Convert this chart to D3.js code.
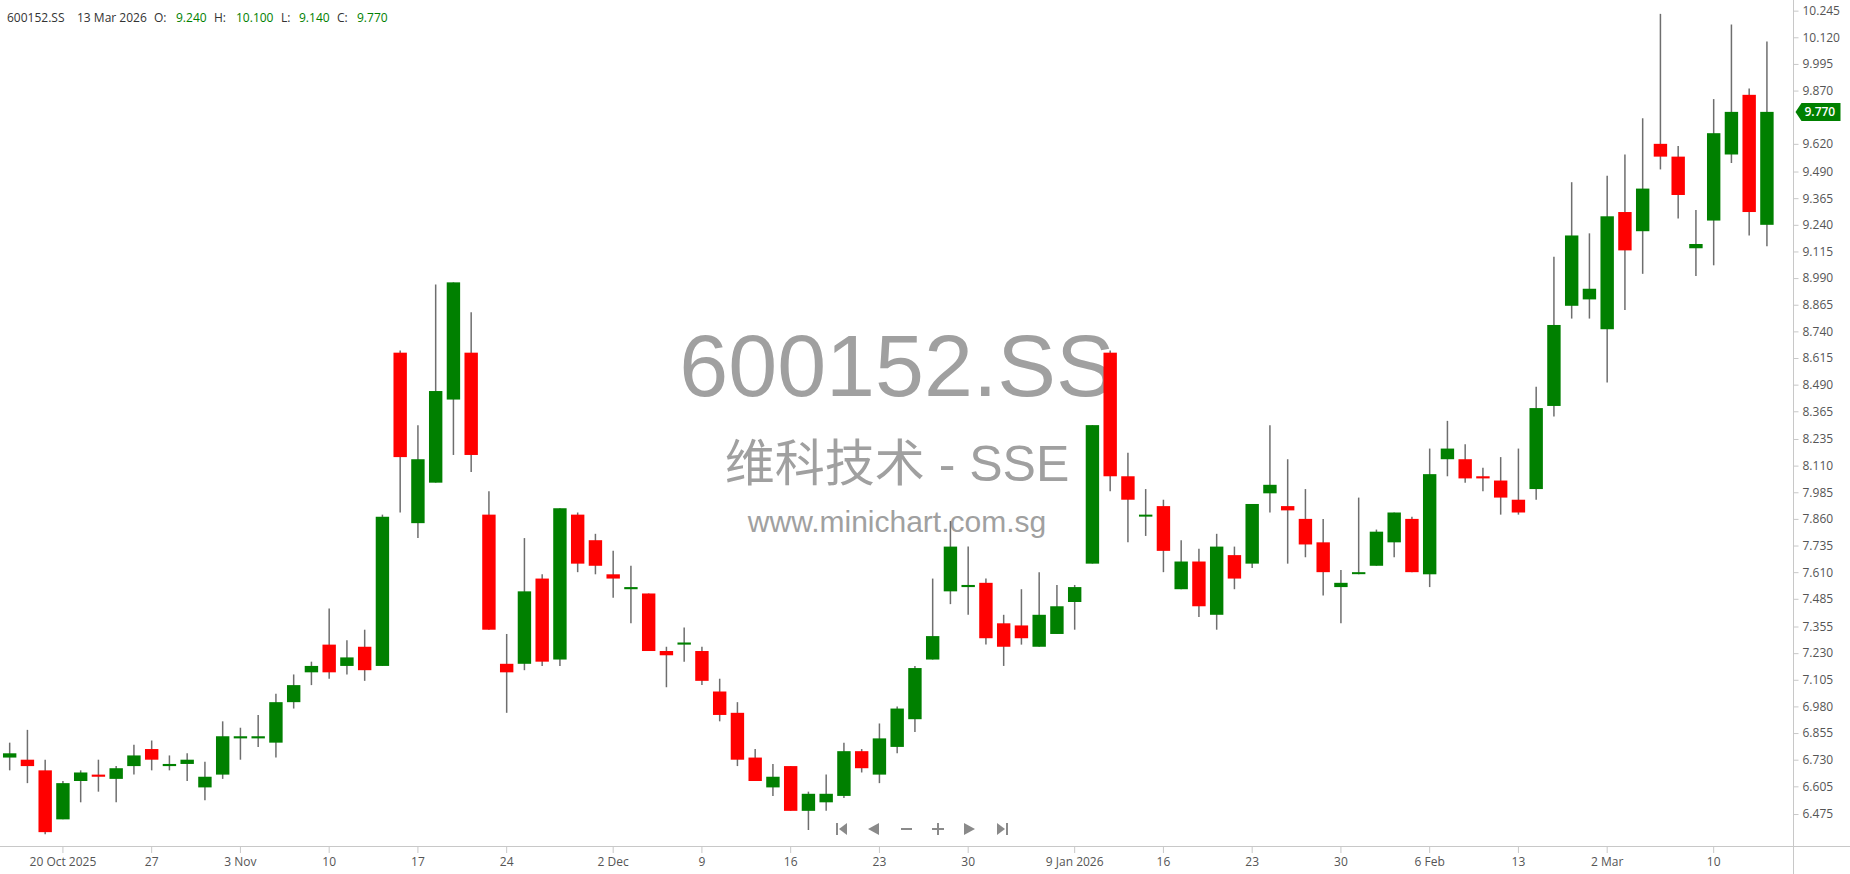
<!DOCTYPE html>
<html>
<head>
<meta charset="utf-8">
<script src="https://cdn.jsdelivr.net/npm/d3@7"></script>
<style>
  html, body { margin: 0; padding: 0; background: #fff; }
  svg { display: block; }
</style>
</head>
<body>
<svg id="chart" width="1850" height="874"></svg>
<script>
// ---------------- DATA ----------------
const dates = [
  "2025-10-15","2025-10-16","2025-10-17","2025-10-20","2025-10-21","2025-10-22","2025-10-23","2025-10-24",
  "2025-10-27","2025-10-28","2025-10-29","2025-10-30","2025-10-31",
  "2025-11-03","2025-11-04","2025-11-05","2025-11-06","2025-11-07",
  "2025-11-10","2025-11-11","2025-11-12","2025-11-13","2025-11-14",
  "2025-11-17","2025-11-18","2025-11-19","2025-11-20","2025-11-21",
  "2025-11-24","2025-11-25","2025-11-26","2025-11-27","2025-11-28",
  "2025-12-01","2025-12-02","2025-12-03","2025-12-04","2025-12-05",
  "2025-12-08","2025-12-09","2025-12-10","2025-12-11","2025-12-12",
  "2025-12-15","2025-12-16","2025-12-17","2025-12-18","2025-12-19",
  "2025-12-22","2025-12-23","2025-12-24","2025-12-25","2025-12-26",
  "2025-12-29","2025-12-30","2025-12-31",
  "2026-01-05","2026-01-06","2026-01-07","2026-01-08","2026-01-09",
  "2026-01-12","2026-01-13","2026-01-14","2026-01-15","2026-01-16",
  "2026-01-19","2026-01-20","2026-01-21","2026-01-22","2026-01-23",
  "2026-01-26","2026-01-27","2026-01-28","2026-01-29","2026-01-30",
  "2026-02-02","2026-02-03","2026-02-04","2026-02-05","2026-02-06",
  "2026-02-09","2026-02-10","2026-02-11","2026-02-12","2026-02-13",
  "2026-02-24","2026-02-25","2026-02-26","2026-02-27",
  "2026-03-02","2026-03-03","2026-03-04","2026-03-05","2026-03-06",
  "2026-03-09","2026-03-10","2026-03-11","2026-03-12","2026-03-13"
];
const opens = [
  6.74,6.73,6.68,6.45,6.63,6.66,6.64,6.70,
  6.78,6.70,6.71,6.60,6.66,
  6.83,6.83,6.81,7.00,7.14,
  7.27,7.17,7.26,7.17,8.64,
  7.84,8.03,8.42,8.64,7.88,
  7.18,7.18,7.58,7.20,7.88,
  7.76,7.60,7.53,7.51,7.24,
  7.27,7.24,7.05,6.95,6.74,
  6.60,6.70,6.49,6.53,6.56,
  6.77,6.66,6.79,6.92,7.20,
  7.52,7.54,7.56,
  7.37,7.36,7.26,7.32,7.47,
  7.65,8.64,8.06,7.88,7.92,
  7.53,7.66,7.41,7.69,7.65,
  7.98,7.92,7.86,7.75,7.54,
  7.61,7.64,7.75,7.86,7.60,
  8.14,8.14,8.06,8.04,7.95,
  8.00,8.39,8.86,8.89,
  8.75,9.30,9.21,9.62,9.56,
  9.13,9.26,9.57,9.85,9.24
];
const highs = [
  6.81,6.87,6.73,6.63,6.68,6.73,6.70,6.80,
  6.82,6.75,6.76,6.72,6.91,
  6.88,6.94,7.04,7.13,7.19,
  7.44,7.29,7.34,7.88,8.65,
  8.30,8.96,8.97,8.83,7.99,
  7.32,7.77,7.60,7.91,7.89,
  7.79,7.71,7.64,7.51,7.26,
  7.35,7.26,7.11,7.00,6.78,
  6.71,6.70,6.58,6.66,6.81,
  6.78,6.90,6.98,7.17,7.58,
  7.85,7.73,7.58,
  7.41,7.53,7.61,7.55,7.55,
  8.30,8.65,8.17,8.00,7.95,
  7.76,7.72,7.79,7.73,7.93,
  8.30,8.14,8.00,7.86,7.62,
  7.96,7.81,7.89,7.87,8.19,
  8.32,8.21,8.10,8.15,8.19,
  8.48,9.09,9.44,9.20,
  9.47,9.57,9.74,10.23,9.61,
  9.31,9.83,10.18,9.88,10.10
];
const lows = [
  6.68,6.62,6.38,6.45,6.53,6.58,6.53,6.66,
  6.68,6.68,6.63,6.54,6.64,
  6.73,6.79,6.74,6.97,7.08,
  7.11,7.13,7.10,7.17,7.89,
  7.77,8.03,8.16,8.08,7.34,
  6.95,7.15,7.17,7.17,7.61,
  7.60,7.49,7.37,7.24,7.07,
  7.19,7.08,6.91,6.70,6.63,
  6.56,6.49,6.40,6.49,6.55,
  6.67,6.62,6.76,6.86,7.20,
  7.46,7.41,7.27,
  7.17,7.27,7.26,7.32,7.34,
  7.65,7.99,7.75,7.78,7.61,
  7.53,7.40,7.34,7.53,7.63,
  7.89,7.65,7.68,7.50,7.37,
  7.60,7.64,7.68,7.61,7.54,
  8.06,8.03,7.99,7.88,7.88,
  7.95,8.34,8.80,8.80,
  8.50,8.84,9.01,9.50,9.27,
  9.00,9.05,9.53,9.19,9.14
];
const closes = [
  6.76,6.70,6.39,6.62,6.67,6.65,6.69,6.75,
  6.73,6.71,6.73,6.65,6.84,
  6.84,6.84,7.00,7.08,7.17,
  7.14,7.21,7.15,7.87,8.15,
  8.14,8.46,8.97,8.16,7.34,
  7.14,7.52,7.19,7.91,7.65,
  7.64,7.58,7.54,7.24,7.22,
  7.28,7.10,6.94,6.73,6.63,
  6.65,6.49,6.57,6.57,6.77,
  6.69,6.83,6.97,7.16,7.31,
  7.73,7.55,7.30,
  7.26,7.30,7.41,7.45,7.54,
  8.30,8.06,7.95,7.88,7.71,
  7.66,7.45,7.73,7.58,7.93,
  8.02,7.90,7.74,7.61,7.56,
  7.61,7.80,7.89,7.61,8.07,
  8.19,8.05,8.05,7.96,7.89,
  8.38,8.77,9.19,8.94,
  9.28,9.12,9.41,9.56,9.38,
  9.15,9.67,9.77,9.30,9.77
];
const xTickDates = ["2025-10-20","2025-10-27","2025-11-03","2025-11-10","2025-11-17","2025-11-24",
  "2025-12-02","2025-12-09","2025-12-16","2025-12-23","2025-12-30","2026-01-09","2026-01-16",
  "2026-01-23","2026-01-30","2026-02-06","2026-02-13","2026-03-02","2026-03-10"];
const xTickLabels = ["20 Oct 2025","27","3 Nov","10","17","24","2 Dec","9","16","23","30",
  "9 Jan 2026","16","23","30","6 Feb","13","2 Mar","10"];
const yTickLabels = ["10.245","10.120","9.995","9.870","9.620","9.490","9.365","9.240","9.115",
  "8.990","8.865","8.740","8.615","8.490","8.365","8.235","8.110","7.985","7.860","7.735",
  "7.610","7.485","7.355","7.230","7.105","6.980","6.855","6.730","6.605","6.475"];
const symbol = "600152.SS";
const companyName = "维科技术 - SSE";
const website = "www.minichart.com.sg";
const lastDateLabel = "13 Mar 2026";
const yDomain = [6.325, 10.295];

// ---------------- LAYOUT ----------------
const W = 1850, H = 874;
const plotRight = 1793.5, plotBottom = 846;
const GREEN = "#008000", RED = "#ff0000";

const candles = dates.map((d, i) => ({ date: d, o: opens[i], h: highs[i], l: lows[i], c: closes[i] }));

const svg = d3.select("#chart");

const x = d3.scaleBand().domain(dates).range([0.8, 0.8 + 17.75 * dates.length]).padding(0);
const y = d3.scaleLinear().domain(yDomain).range([plotBottom, 0]);
const bw = 13.4;
const cx = d => x(d) + x.bandwidth() / 2;

// watermark
const wm = svg.append("g").attr("fill", "#a0a0a0").attr("text-anchor", "middle");
wm.append("text").attr("x", 897).attr("y", 396)
  .style("font-family", "'Liberation Sans', Arial, sans-serif").style("font-size", "88px")
  .text(symbol);
wm.append("text").attr("x", 897).attr("y", 481)
  .style("font-family", "'Liberation Sans', 'Noto Sans CJK SC', sans-serif").style("font-size", "50px")
  .text(companyName);
wm.append("text").attr("x", 897).attr("y", 532)
  .style("font-family", "'Liberation Sans', Arial, sans-serif").style("font-size", "30px")
  .text(website);

// axes lines
svg.append("line").attr("x1", 0).attr("x2", W).attr("y1", plotBottom + 0.5).attr("y2", plotBottom + 0.5)
  .attr("stroke", "#c8c8c8").attr("stroke-width", 1);
svg.append("line").attr("x1", plotRight).attr("x2", plotRight).attr("y1", 0).attr("y2", H)
  .attr("stroke", "#c8c8c8").attr("stroke-width", 1);

// x axis
const xAxis = d3.axisBottom(x).tickValues(xTickDates)
  .tickFormat(d => xTickLabels[xTickDates.indexOf(d)]).tickSize(6).tickPadding(4);
const gx = svg.append("g").attr("transform", `translate(0,${plotBottom + 1})`).call(xAxis);
gx.select(".domain").remove();
gx.selectAll(".tick line").attr("stroke", "#c8c8c8");
gx.selectAll(".tick text").attr("fill", "#555").style("font-family", "'Open Sans', sans-serif").style("font-size", "12px");

// y axis
const yAxis = d3.axisRight(y).tickValues(yTickLabels.map(Number))
  .tickFormat((d, i) => yTickLabels[i]).tickSize(5).tickPadding(4);
const gy = svg.append("g").attr("transform", `translate(${plotRight},0)`).call(yAxis);
gy.select(".domain").remove();
gy.selectAll(".tick line").attr("stroke", "#c8c8c8");
gy.selectAll(".tick text").attr("fill", "#555").style("font-family", "'Open Sans', sans-serif").style("font-size", "12px");

// candles
const g = svg.append("g");
g.selectAll("line.wick").data(candles).join("line").attr("class", "wick")
  .attr("x1", d => cx(d.date)).attr("x2", d => cx(d.date))
  .attr("y1", d => y(d.h)).attr("y2", d => y(d.l))
  .attr("stroke", "#6e6e6e").attr("stroke-width", 1.5);
g.selectAll("rect.body").data(candles).join("rect").attr("class", "body")
  .attr("x", d => cx(d.date) - bw / 2).attr("width", bw)
  .attr("y", d => y(Math.max(d.o, d.c)))
  .attr("height", d => Math.max(2, Math.abs(y(d.o) - y(d.c))))
  .attr("fill", d => d.c >= d.o ? GREEN : RED);

// last price marker
const last = candles[candles.length - 1];
const ly = y(last.c);
svg.append("path")
  .attr("d", `M${plotRight + 2},${ly} L${plotRight + 8},${ly - 9} L${plotRight + 47},${ly - 9} L${plotRight + 47},${ly + 9} L${plotRight + 8},${ly + 9} Z`)
  .attr("fill", GREEN);
svg.append("text").attr("x", plotRight + 11).attr("y", ly + 4.5).attr("fill", "#fff")
  .style("font-family", "'Open Sans', sans-serif").style("font-size", "12px").style("font-weight", "600")
  .text(last.c.toFixed(3));

// header
const hdr = svg.append("g").style("font-family", "'Open Sans', sans-serif").style("font-size", "12px");
const hdrItems = [
  [7, symbol, "#333"], [77, lastDateLabel, "#333"],
  [154, "O:", "#333"], [176, last.o.toFixed(3), GREEN],
  [214, "H:", "#333"], [236, last.h.toFixed(3), GREEN],
  [281, "L:", "#333"], [299, last.l.toFixed(3), GREEN],
  [337, "C:", "#333"], [357, last.c.toFixed(3), GREEN]
];
hdr.selectAll("text").data(hdrItems).join("text")
  .attr("x", d => d[0]).attr("y", 22).attr("fill", d => d[2]).text(d => d[1]);

// navigation buttons
const nav = svg.append("g").attr("fill", "#8a8a8a").attr("stroke", "#8a8a8a");
const ny = 829;
nav.append("rect").attr("x", 836).attr("y", ny - 6).attr("width", 2).attr("height", 12).attr("stroke", "none");
nav.append("path").attr("d", `M839,${ny} L847,${ny - 6} L847,${ny + 6} Z`).attr("stroke", "none");
nav.append("path").attr("d", `M868,${ny} L879,${ny - 6} L879,${ny + 6} Z`).attr("stroke", "none");
nav.append("rect").attr("x", 901).attr("y", ny - 1).attr("width", 11).attr("height", 2).attr("stroke", "none");
nav.append("rect").attr("x", 932).attr("y", ny - 1).attr("width", 12).attr("height", 2).attr("stroke", "none");
nav.append("rect").attr("x", 937).attr("y", ny - 6).attr("width", 2).attr("height", 12).attr("stroke", "none");
nav.append("path").attr("d", `M975,${ny} L964,${ny - 6} L964,${ny + 6} Z`).attr("stroke", "none");
nav.append("path").attr("d", `M1005,${ny} L997,${ny - 6} L997,${ny + 6} Z`).attr("stroke", "none");
nav.append("rect").attr("x", 1006).attr("y", ny - 6).attr("width", 2).attr("height", 12).attr("stroke", "none");
</script>
</body>
</html>
